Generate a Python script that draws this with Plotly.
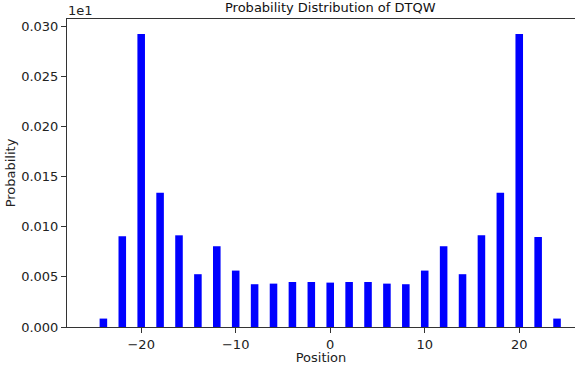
import plotly.graph_objects as go

positions = [-24, -22, -20, -18, -16, -14, -12, -10, -8, -6, -4, -2, 0,
             2, 4, 6, 8, 10, 12, 14, 16, 18, 20, 22, 24]
probability = [0.00084, 0.00905, 0.02925, 0.0134, 0.00915, 0.00527, 0.00806,
               0.00563, 0.00427, 0.00433, 0.00449, 0.00449, 0.00443,
               0.00449, 0.00449, 0.00433, 0.00427, 0.00563, 0.00806,
               0.00527, 0.00915, 0.0134, 0.02925, 0.00898, 0.00084]
y_ticks = [0.0, 0.005, 0.010, 0.015, 0.020, 0.025, 0.030]
y_tick_text = ["0.000", "0.005", "0.010", "0.015", "0.020", "0.025", "0.030"]
x_ticks = [-20, -10, 0, 10, 20]

FONT = "DejaVu Sans"
FS = 13

fig = go.Figure(go.Bar(
    x=positions, y=probability, width=0.8,
    marker=dict(color="#0000ff", line=dict(width=0)),
))

fig.update_layout(
    width=576, height=365,
    margin=dict(l=67, r=1, t=19, b=38),
    paper_bgcolor="white", plot_bgcolor="white",
    font=dict(family=FONT, size=FS, color="#222222"),
    showlegend=False,
    xaxis=dict(
        range=[-27.85, 25.9], tickvals=x_ticks,
        showgrid=False, zeroline=False,
        showline=True, linecolor="#333333", linewidth=1, mirror=True,
        ticks="outside", ticklen=5, tickcolor="#333333", tickwidth=1,
        tickfont=dict(family=FONT, size=FS, color="#222222"),
        title=dict(text="Position", font=dict(family=FONT, size=FS), standoff=3),
    ),
    yaxis=dict(
        range=[0, 0.03074], tickvals=y_ticks, ticktext=y_tick_text,
        showgrid=False, zeroline=False,
        showline=True, linecolor="#333333", linewidth=1,
        ticks="outside", ticklen=5, tickcolor="#333333", tickwidth=1,
        tickfont=dict(family=FONT, size=FS, color="#222222"),
        title=dict(text="Probability", font=dict(family=FONT, size=FS), standoff=2),
    ),
    annotations=[
        dict(text="Probability Distribution of DTQW", xref="x", yref="paper",
             x=0, y=1, yshift=2, xanchor="center", yanchor="bottom",
             showarrow=False, font=dict(family=FONT, size=FS, color="#111111")),
        dict(text="1e1", xref="paper", yref="paper", x=0, y=1, xshift=-1, yshift=-1,
             xanchor="left", yanchor="bottom", showarrow=False,
             font=dict(family=FONT, size=FS, color="#222222")),
    ],
)

fig.write_html("out.html", config={"displayModeBar": False},
               post_script="document.body.style.margin='0';document.body.style.padding='0';")
